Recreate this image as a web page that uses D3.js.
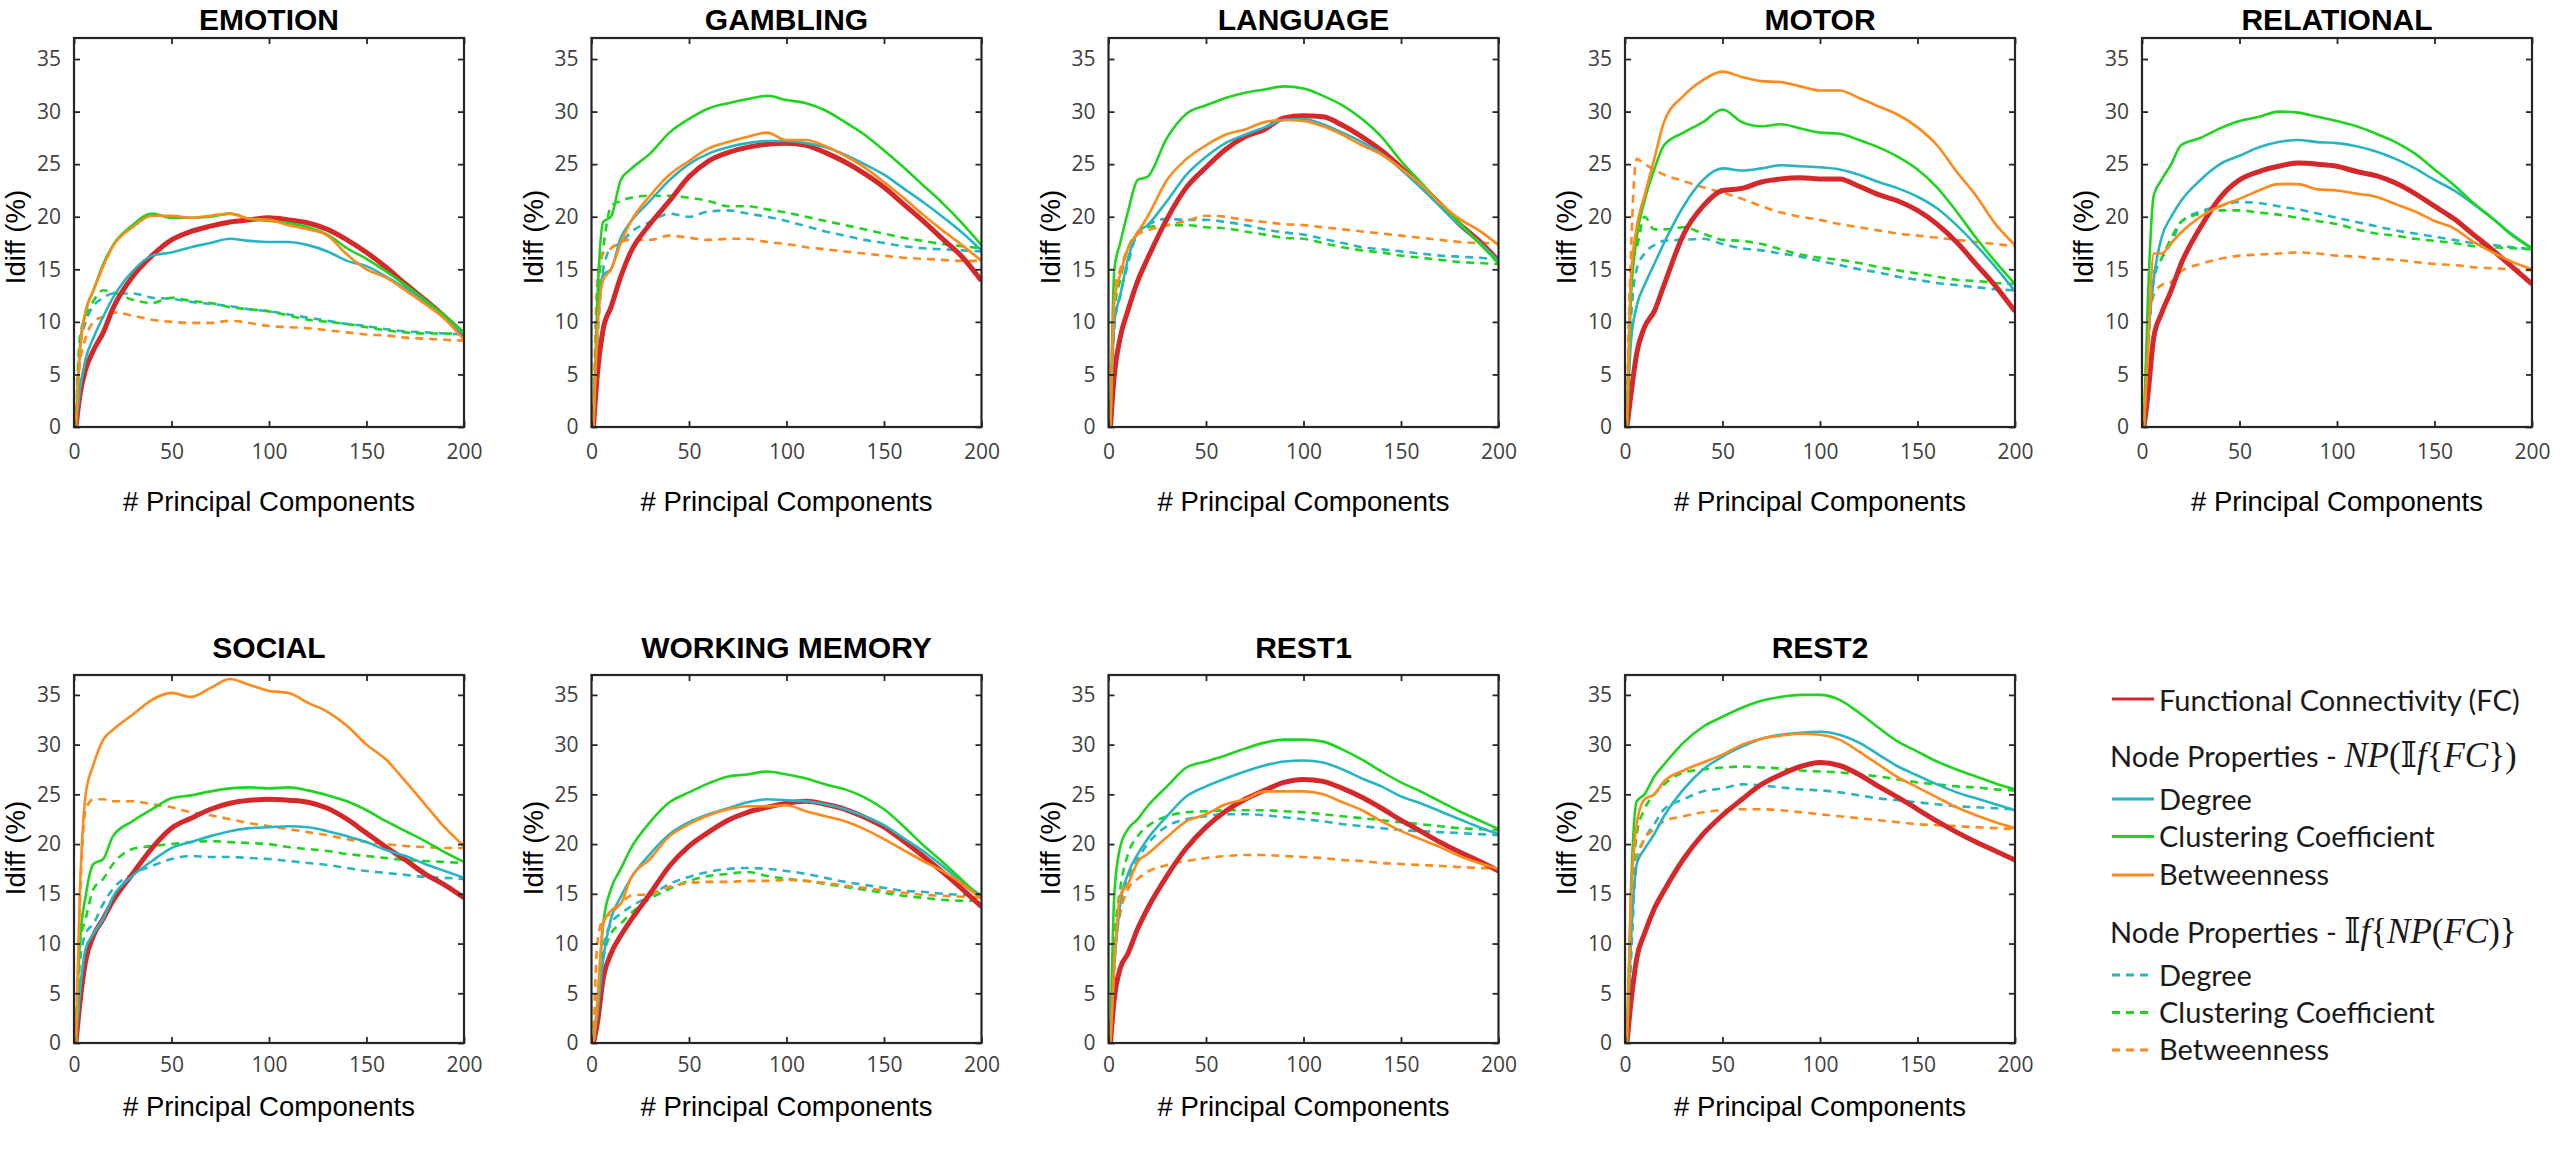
<!DOCTYPE html>
<html><head><meta charset="utf-8">
<script src="https://cdn.jsdelivr.net/npm/d3@7"></script>
<style>body{margin:0;background:#fff}svg{display:block}</style>
</head><body>
<svg id="chart" width="2560" height="1153"></svg>
<script>
// ---------------- DATA ----------------
const PCS = [1,3,6,10,15,20,30,40,50,60,70,80,90,100,110,120,130,140,150,160,170,180,190,200];
const TASKS = ["EMOTION","GAMBLING","LANGUAGE","MOTOR","RELATIONAL","SOCIAL","WORKING MEMORY","REST1","REST2"];
const X_TICKS = [0,50,100,150,200];
const Y_TICKS = [0,5,10,15,20,25,30,35];

// Functional Connectivity (FC)
const FC = [
[0,3.0,5.5,7.3,9.0,11.3,14.3,16.3,17.8,18.6,19.1,19.5,19.7,19.9,19.7,19.4,18.8,17.8,16.6,15.2,13.6,12.1,10.5,8.8],
[0,5.0,9.3,11.4,14.3,16.6,19.3,21.5,23.8,25.3,26.1,26.6,26.9,27.0,26.8,26.1,25.2,24.1,22.8,21.2,19.6,17.9,16.2,13.9],
[0,5.0,8.5,11.1,13.9,16.0,19.8,22.8,24.7,26.4,27.6,28.3,29.4,29.6,29.5,28.7,27.6,26.3,24.7,23.0,21.2,19.3,17.7,15.8],
[0,3.0,7.0,9.5,11.0,13.5,18.3,21.0,22.5,22.7,23.3,23.6,23.7,23.6,23.6,22.9,22.1,21.5,20.6,19.3,17.6,15.5,13.4,11.0],
[0,3.0,8.5,10.8,13.0,15.5,19.0,21.8,23.5,24.3,24.8,25.1,25.0,24.8,24.3,23.9,23.2,22.2,21.0,19.8,18.3,16.8,15.2,13.6],
[0,4.0,8.3,10.8,12.5,14.3,17.0,19.6,21.6,22.6,23.5,24.1,24.4,24.5,24.4,24.2,23.6,22.5,21.1,19.7,18.4,17.0,15.9,14.6],
[0,2.0,6.5,9.0,10.8,12.3,15.0,17.8,19.8,21.2,22.4,23.2,23.7,24.1,24.3,24.0,23.5,22.7,21.7,20.3,18.8,17.2,15.5,13.7],
[0,4.5,7.5,9.0,11.5,13.5,16.8,19.6,21.7,23.3,24.5,25.4,26.2,26.5,26.3,25.6,24.7,23.6,22.4,21.3,20.2,19.2,18.3,17.3],
[0,4.0,8.5,11.0,13.5,15.3,18.5,21.0,22.9,24.5,26.0,27.0,27.8,28.2,27.9,27.0,25.8,24.7,23.5,22.3,21.2,20.2,19.3,18.4]
];
// Node Properties - NP(If{FC}) : solid
const NP_DEGREE = [
[0,3.5,6.5,8.5,10.5,12.3,14.8,16.3,16.6,17.1,17.5,17.9,17.7,17.6,17.6,17.3,16.7,15.8,15.3,14.3,13.2,12.0,10.5,8.8],
[0,10.0,14.5,15.0,18.0,19.5,21.5,23.5,25.0,26.0,26.6,27.0,27.2,27.2,27.0,26.6,25.9,25.0,24.0,22.7,21.4,20.0,18.5,16.8],
[0,10.0,12.5,16.0,18.5,19.2,21.5,24.0,25.7,27.0,27.8,28.5,29.2,29.3,28.8,28.0,27.1,26.0,24.5,22.8,21.0,19.2,17.6,15.8],
[0,8.0,11.5,13.5,15.5,17.5,21.0,23.5,24.6,24.4,24.6,24.9,24.8,24.7,24.5,24.0,23.3,22.7,21.9,20.8,19.2,17.3,15.2,12.9],
[0,8.0,14.0,18.0,20.0,21.5,23.5,25.0,25.8,26.6,27.1,27.3,27.1,27.0,26.7,26.2,25.5,24.6,23.5,22.5,21.2,19.8,18.3,17.0],
[0,5.0,9.5,11.0,12.5,14.7,16.8,18.3,19.6,20.2,20.8,21.3,21.6,21.7,21.8,21.7,21.3,20.8,20.2,19.4,18.8,18.0,17.3,16.6],
[0,3.0,8.5,12.5,14.7,16.5,19.0,21.0,22.2,23.0,23.6,24.2,24.5,24.4,24.3,24.0,23.5,22.8,21.9,20.6,19.3,17.8,16.2,14.8],
[0,8.0,14.0,17.0,19.0,20.5,22.8,24.8,25.8,26.6,27.3,27.9,28.3,28.4,28.2,27.5,26.6,25.8,24.8,24.1,23.3,22.5,21.7,21.0],
[0,10.0,18.0,19.5,21.0,22.8,25.5,27.5,28.8,29.8,30.6,31.0,31.2,31.3,31.0,30.2,29.0,27.8,26.9,26.0,25.2,24.6,24.0,23.4]
];
const NP_CLUSTERING = [
[0,7.5,11.0,13.0,15.5,17.3,19.2,20.3,19.9,19.9,20.0,20.3,19.8,19.6,19.4,19.0,18.3,17.0,16.0,14.8,13.5,12.1,10.6,9.0],
[0,12.0,19.5,20.0,23.5,24.5,26.0,28.0,29.3,30.3,30.8,31.2,31.5,31.1,30.8,30.1,29.0,27.8,26.3,24.7,23.0,21.3,19.4,17.3],
[0,15.0,17.5,20.5,23.5,23.8,27.5,29.8,30.6,31.3,31.8,32.1,32.4,32.2,31.5,30.6,29.3,27.6,25.3,23.3,21.3,19.4,17.5,15.6],
[0,12.0,18.0,21.5,24.5,26.8,28.0,29.0,30.2,29.0,28.6,28.8,28.4,28.0,27.9,27.3,26.6,25.7,24.5,22.8,20.5,18.0,15.7,13.6],
[0,12.0,22.0,23.5,25.0,26.8,27.5,28.4,29.1,29.5,30.0,29.9,29.5,29.1,28.6,27.9,27.1,26.0,24.5,23.0,21.3,19.8,18.2,17.0],
[0,10.0,14.8,18.0,18.5,20.8,22.3,23.5,24.6,24.9,25.3,25.6,25.7,25.6,25.7,25.4,24.9,24.3,23.4,22.3,21.3,20.3,19.2,18.2],
[0,4.0,12.0,15.5,17.5,19.5,22.2,24.2,25.2,26.1,26.8,27.0,27.3,27.0,26.6,26.0,25.5,24.7,23.5,21.8,19.9,18.2,16.4,14.5],
[0,15.0,19.7,21.5,22.5,23.8,25.8,27.7,28.3,28.9,29.6,30.2,30.5,30.5,30.3,29.5,28.5,27.3,26.2,25.3,24.3,23.3,22.4,21.5],
[0,15.0,24.3,25.0,26.8,28.0,30.2,31.8,32.8,33.7,34.4,34.8,35.0,35.0,34.5,33.2,31.7,30.3,29.3,28.3,27.5,26.8,26.1,25.5]
];
const NP_BETWEENNESS = [
[0,7.0,11.0,13.0,15.3,17.2,19.0,20.1,20.1,19.9,20.1,20.3,19.8,19.7,19.2,18.8,18.2,16.4,15.0,14.2,13.0,11.7,10.3,8.3],
[0,9.0,14.0,15.0,17.5,19.5,22.0,24.0,25.3,26.5,27.1,27.6,28.0,27.3,27.3,26.7,25.8,24.7,23.3,21.8,20.2,18.7,17.3,15.8],
[0,12.0,14.5,17.0,18.5,20.0,23.5,25.5,26.8,27.8,28.3,29.0,29.2,29.1,28.6,27.8,26.8,25.9,24.6,23.1,21.3,19.8,18.7,17.3],
[0,14.0,19.0,22.0,25.5,29.0,31.5,33.0,33.8,33.3,32.9,32.8,32.4,32.0,32.0,31.3,30.5,29.7,28.5,26.8,24.3,22.0,19.3,17.3],
[0,7.0,16.5,16.5,17.5,18.5,20.0,21.0,21.7,22.5,23.1,23.1,22.6,22.5,22.2,21.9,21.2,20.5,19.6,18.9,17.6,16.6,15.7,15.0],
[0,15.0,25.0,28.0,30.5,31.5,33.0,34.5,35.2,34.8,35.7,36.6,36.0,35.4,35.2,34.2,33.3,31.9,30.0,28.5,26.3,24.0,21.7,19.8],
[0,4.0,12.0,13.3,14.0,16.5,18.5,20.8,22.0,22.9,23.5,23.8,23.8,23.9,23.3,22.8,22.3,21.5,20.5,19.4,18.3,17.3,16.0,14.5],
[0,8.0,14.8,16.0,18.2,19.0,20.7,22.3,23.0,24.0,24.5,25.3,25.3,25.3,25.0,24.2,23.4,22.3,21.3,20.5,19.7,18.8,18.1,17.5],
[0,14.0,22.0,24.5,25.0,26.3,27.4,28.2,29.0,30.0,30.6,30.9,31.1,31.0,30.5,29.3,28.0,26.7,25.7,24.7,23.7,22.9,22.2,21.6]
];
// Node Properties - If{NP(FC)} : dashed
const IF_DEGREE = [
[0,7.5,10.0,11.5,12.3,12.7,12.7,12.3,12.2,11.9,11.7,11.5,11.2,11.0,10.7,10.4,10.1,9.8,9.6,9.3,9.1,9.0,8.9,8.8],
[0,8.0,15.0,17.0,17.5,18.5,19.5,20.3,20.0,20.5,20.6,20.3,20.0,19.6,19.1,18.6,18.2,17.8,17.5,17.2,17.0,16.9,16.8,16.7],
[0,9.5,12.5,15.5,18.5,19.2,19.8,19.7,19.7,19.5,19.2,18.8,18.5,18.3,17.9,17.5,17.1,16.9,16.7,16.5,16.3,16.2,16.1,15.9],
[0,10.0,15.0,16.5,17.3,17.7,17.8,17.9,17.4,17.0,16.8,16.5,16.2,15.8,15.4,15.0,14.7,14.3,14.0,13.7,13.5,13.3,13.1,13.0],
[0,7.0,14.0,16.0,17.5,19.5,20.5,21.0,21.4,21.3,21.0,20.7,20.3,19.9,19.5,19.1,18.7,18.4,18.1,17.8,17.5,17.3,17.1,16.9],
[0,8.0,11.0,12.0,14.0,15.5,17.0,17.8,18.5,18.8,18.7,18.7,18.6,18.5,18.3,18.1,17.9,17.6,17.3,17.1,16.9,16.7,16.6,16.5],
[0,2.0,9.5,12.0,13.0,13.7,14.8,16.0,16.7,17.2,17.5,17.6,17.5,17.3,17.0,16.6,16.2,15.9,15.6,15.3,15.2,15.0,14.9,14.8],
[0,8.0,13.5,16.5,18.5,20.0,21.8,22.5,22.8,23.0,23.0,22.9,22.7,22.5,22.3,22.0,21.8,21.6,21.4,21.3,21.2,21.1,21.0,20.9],
[0,8.0,18.5,20.5,22.0,23.5,24.5,25.3,25.6,26.0,25.9,25.7,25.5,25.4,25.2,24.9,24.6,24.4,24.2,24.0,23.8,23.7,23.6,23.5]
];
const IF_CLUSTERING = [
[0,8.5,10.5,12.0,13.0,12.8,12.1,11.8,12.3,12.0,11.8,11.4,11.2,11.0,10.6,10.2,10.0,9.8,9.5,9.2,9.0,8.9,8.9,8.8],
[0,12.0,17.0,21.0,21.5,21.8,22.0,22.0,21.8,21.5,21.0,21.0,20.7,20.4,20.0,19.6,19.2,18.8,18.4,18.0,17.7,17.4,17.2,17.0],
[0,11.0,14.0,17.0,18.5,19.0,19.2,19.2,19.0,18.9,18.6,18.3,18.0,17.9,17.5,17.1,16.8,16.6,16.3,16.1,15.9,15.7,15.6,15.5],
[0,15.0,17.0,20.0,18.8,18.8,19.0,18.4,17.8,17.7,17.4,16.9,16.4,16.1,15.9,15.6,15.2,14.9,14.6,14.3,14.0,13.9,13.7,13.6],
[0,9.0,14.5,16.0,18.0,19.5,20.3,20.6,20.6,20.4,20.2,19.9,19.6,19.3,18.8,18.4,18.2,17.9,17.7,17.5,17.2,17.1,17.0,16.9],
[0,10.0,12.5,15.5,16.5,18.0,19.5,19.8,20.0,20.2,20.3,20.2,20.1,20.0,19.7,19.5,19.3,19.0,18.8,18.6,18.4,18.3,18.2,18.1],
[0,4.0,8.5,11.0,12.0,13.0,14.5,15.5,16.3,16.8,17.0,17.2,16.8,16.5,16.3,16.0,15.7,15.4,15.1,14.8,14.6,14.4,14.3,14.3],
[0,10.0,15.5,19.0,20.8,21.8,22.8,23.2,23.3,23.4,23.4,23.4,23.3,23.2,23.0,22.8,22.6,22.4,22.2,22.0,21.8,21.6,21.5,21.4],
[0,12.0,21.0,23.5,25.0,26.0,27.2,27.5,27.7,27.8,27.7,27.6,27.4,27.3,27.2,27.0,26.8,26.5,26.2,26.0,25.8,25.7,25.5,25.4]
];
const IF_BETWEENNESS = [
[0,6.0,8.5,10.0,10.5,10.9,10.6,10.2,10.0,9.9,9.9,10.1,9.9,9.6,9.5,9.4,9.2,9.0,8.8,8.7,8.5,8.4,8.3,8.2],
[0,14.0,16.5,17.0,17.6,17.8,17.8,18.2,18.0,17.8,17.9,17.9,17.6,17.4,17.1,16.9,16.7,16.5,16.3,16.1,16.0,15.9,15.8,15.8],
[0,13.0,15.0,17.0,18.3,18.7,19.2,19.6,20.1,20.0,19.7,19.5,19.3,19.2,19.0,18.8,18.6,18.4,18.2,18.0,17.8,17.6,17.5,17.5],
[0,16.0,25.5,25.0,24.5,24.0,23.4,22.8,22.3,21.7,21.0,20.4,20.0,19.7,19.3,19.0,18.7,18.4,18.2,18.0,17.8,17.6,17.4,17.2],
[0,9.0,12.5,13.5,13.8,14.8,15.5,16.0,16.3,16.4,16.5,16.6,16.5,16.3,16.2,16.0,15.9,15.7,15.5,15.4,15.2,15.1,15.0,14.9],
[0,14.0,23.5,24.5,24.5,24.3,24.3,24.0,23.7,23.2,22.9,22.5,22.1,21.8,21.5,21.2,20.9,20.5,20.2,20.0,19.8,19.7,19.6,19.6],
[0,10.0,12.5,13.0,14.0,14.8,15.0,15.7,16.1,16.2,16.2,16.3,16.3,16.4,16.3,16.1,15.8,15.6,15.3,15.1,14.9,14.8,14.7,14.6],
[0,9.0,13.0,15.5,16.5,17.2,17.9,18.3,18.6,18.8,18.9,18.9,18.8,18.7,18.6,18.4,18.3,18.1,18.0,17.9,17.8,17.7,17.6,17.5],
[0,10.0,18.0,20.5,21.5,22.3,22.8,23.2,23.4,23.5,23.5,23.4,23.2,23.0,22.8,22.6,22.4,22.2,22.0,21.9,21.8,21.7,21.6,21.5]
];
const SERIES_LABELS = ["Functional Connectivity (FC)","Degree","Clustering Coefficient","Betweenness","Degree","Clustering Coefficient","Betweenness"];

// ---------------- STYLE / LAYOUT ----------------
const COLORS = {red:"#d5282b", teal:"#27b5c2", green:"#1fd41f", orange:"#ff8a1c"};
const SERIES = [
  {data:FC, color:COLORS.red, width:5, dash:null},
  {data:NP_DEGREE, color:COLORS.teal, width:2.6, dash:null},
  {data:NP_CLUSTERING, color:COLORS.green, width:2.6, dash:null},
  {data:NP_BETWEENNESS, color:COLORS.orange, width:2.6, dash:null},
  {data:IF_DEGREE, color:COLORS.teal, width:2.6, dash:"8,6"},
  {data:IF_CLUSTERING, color:COLORS.green, width:2.6, dash:"8,6"},
  {data:IF_BETWEENNESS, color:COLORS.orange, width:2.6, dash:"8,6"}
];
const DRAW_ORDER = [4,5,6,0,1,2,3];

const PANEL_W = 390;
const COL_LEFT = [74, 591.5, 1108.5, 1625, 2142];
const ROWS = [
  {top:38, bottom:427, titleY:29.5, tickPad:17.5, xlabY:511, ylabY:237},
  {top:675, bottom:1043, titleY:658, tickPad:14.5, xlabY:1116, ylabY:848}
];

const svg = d3.select("#chart");
const TICK_FONT = "'Open Sans', sans-serif";

TASKS.forEach((task, i) => {
  const row = ROWS[i < 5 ? 0 : 1];
  const left = COL_LEFT[i < 5 ? i : i - 5];
  const x = d3.scaleLinear().domain([0, 200]).range([left, left + PANEL_W]);
  const y = d3.scaleLinear().domain([0, 37]).range([row.bottom, row.top]);
  const g = svg.append("g");

  // lines
  const clipId = "clip" + i;
  g.append("clipPath").attr("id", clipId).append("rect")
    .attr("x", left).attr("y", row.top).attr("width", PANEL_W).attr("height", row.bottom - row.top);
  const line = d3.line().x((d, k) => x(PCS[k])).y(d => y(d)).curve(d3.curveMonotoneX);
  const lg = g.append("g").attr("clip-path", `url(#${clipId})`);
  DRAW_ORDER.forEach(s => {
    const S = SERIES[s];
    lg.append("path").datum(S.data[i])
      .attr("d", line)
      .attr("fill", "none")
      .attr("stroke", S.color)
      .attr("stroke-width", S.width)
      .attr("stroke-linejoin", "round")
      .attr("stroke-dasharray", S.dash);
  });

  // axes with inward ticks on all sides
  const styleAxis = a => {
    a.select(".domain").remove();
    a.selectAll(".tick line").attr("stroke", "#262626").attr("stroke-width", 1.8);
    a.selectAll(".tick text").attr("fill", "#404040").style("font-family", TICK_FONT).style("font-size", "21px");
  };
  g.append("g").attr("transform", `translate(0,${row.bottom})`)
    .call(d3.axisBottom(x).tickValues(X_TICKS).tickSize(-6).tickPadding(row.tickPad))
    .call(styleAxis);
  g.append("g").attr("transform", `translate(0,${row.top})`)
    .call(d3.axisTop(x).tickValues(X_TICKS).tickSize(-6).tickFormat(""))
    .call(styleAxis);
  g.append("g").attr("transform", `translate(${left},0)`)
    .call(d3.axisLeft(y).tickValues(Y_TICKS).tickSize(-6).tickPadding(13))
    .call(styleAxis);
  g.append("g").attr("transform", `translate(${left + PANEL_W},0)`)
    .call(d3.axisRight(y).tickValues(Y_TICKS).tickSize(-6).tickFormat(""))
    .call(styleAxis);
  g.selectAll(".tick text").filter(function(){return this.textContent==="";}).remove();

  g.append("rect").attr("x", left).attr("y", row.top)
    .attr("width", PANEL_W).attr("height", row.bottom - row.top)
    .attr("fill", "none").attr("stroke", "#262626").attr("stroke-width", 2.2);

  // title and labels
  g.append("text").attr("x", left + PANEL_W / 2).attr("y", row.titleY)
    .attr("text-anchor", "middle")
    .style("font-family", "'Liberation Sans', Arial, sans-serif")
    .style("font-weight", "bold").style("font-size", "30px").attr("fill", "#000")
    .text(task);
  g.append("text").attr("x", left + PANEL_W / 2).attr("y", row.xlabY)
    .attr("text-anchor", "middle")
    .style("font-family", "'Liberation Sans', Arial, sans-serif")
    .style("font-size", "27.5px").attr("fill", "#000")
    .text("# Principal Components");
  g.append("text")
    .attr("transform", `translate(${left - 49},${row.ylabY}) rotate(-90)`)
    .attr("text-anchor", "middle")
    .style("font-family", "'Liberation Sans', Arial, sans-serif")
    .style("font-size", "27.5px").attr("fill", "#000")
    .text("Idiff (%)");
});

// ---------------- LEGEND ----------------
const LEG_FONT = "Lato, 'Open Sans', sans-serif";
const MATH_FONT = "'Liberation Serif', 'DejaVu Serif', serif";
const leg = svg.append("g");
const legItems = [
  {s:0, y:699, base:710.5},
  {s:1, y:799, base:810},
  {s:2, y:836.5, base:847},
  {s:3, y:875, base:885},
  {s:4, y:975, base:986},
  {s:5, y:1012.5, base:1023},
  {s:6, y:1050, base:1060}
];
legItems.forEach(it => {
  const S = SERIES[it.s];
  leg.append("line")
    .attr("x1", 2112).attr("x2", S.dash ? 2148 : 2154)
    .attr("y1", it.y).attr("y2", it.y)
    .attr("stroke", S.color).attr("stroke-width", 3)
    .attr("stroke-dasharray", S.dash);
  leg.append("text").attr("x", 2159).attr("y", it.base)
    .style("font-family", LEG_FONT).style("font-size", "29px").attr("fill", "#1a1a1a")
    .text(SERIES_LABELS[it.s]);
});
function header(yBase, parts) {
  const t = leg.append("text").attr("x", 2110).attr("y", yBase).attr("fill", "#1a1a1a");
  t.append("tspan").style("font-family", LEG_FONT).style("font-size", "29px").text("Node Properties - ");
  parts.forEach(p => {
    t.append("tspan").style("font-family", MATH_FONT).style("font-size", "35px")
      .style("font-style", p[1] ? "italic" : "normal").text(p[0]);
  });
}
header(766.5, [["NP",1],["(",0],["\u{1D540}",0],["f",1],["{",0],["FC",1],["})",0]]);
header(943, [["\u{1D540}",0],["f",1],["{",0],["NP",1],["(",0],["FC",1],[")}",0]]);
</script>
</body></html>
